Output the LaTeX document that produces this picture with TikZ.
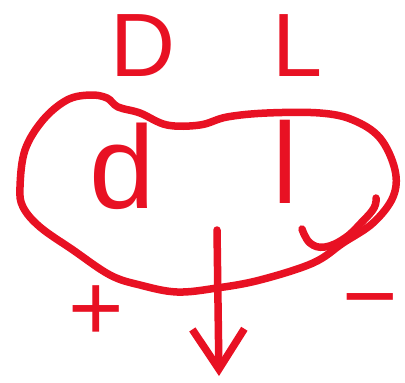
\documentclass[tikz,border=0pt]{standalone}
\usepackage{fontspec}
\setmainfont{Liberation Sans}
\usetikzlibrary{arrows.meta}

\definecolor{inkred}{HTML}{E81123}

\begin{document}
\begin{tikzpicture}[x=1pt,y=-1pt]
            \useasboundingbox (0,0) rectangle (405,383);
            \tikzset{ink/.style={draw=inkred,line width=7.5pt,line cap=round,line join=round},
                     inklabel/.style={text=inkred,inner sep=0pt}}

            % blob
            \draw[ink] plot[smooth cycle,tension=0.6] coordinates {
                (20,187) (25,150) (43,120) (67,100) (90,95) (107,98) (118,107)
                (140,113) (167,125) (200,125) (227,117) (267,113) (320,113)
                (353,120) (380,138) (395,170) (393,197) (373,223) (343,243)
                (313,263) (260,280) (217,288) (177,292) (140,285) (110,275)
                (73,250) (40,227) (23,207)};

            % curl
            \draw[ink] plot[smooth,tension=0.7] coordinates {
                (302,229) (310,243) (325,247) (345,238) (362,222) (374,208) (376,198)};

            % arrow
            \coordinate (T) at (217,230);
            \coordinate (E) at (219,376);
            \draw[ink,-{Straight Barb[length=40pt,width=52pt,line width=7.5pt]}] (T)--(E);

            \node[inklabel,font=\fontsize{90}{90}\selectfont] (D) at (143,46) {D};
            \node[inklabel,font=\fontsize{90}{90}\selectfont] (L) at (298,46) {L};
            \node[inklabel,font=\fontsize{118}{118}\selectfont] (d) at (122,166) {d};
            \node[inklabel,font=\fontsize{115}{115}\selectfont] (l) at (285,162) {l};
            \node[inklabel,font=\fontsize{95}{95}\selectfont] (plus) at (96,313) {+};
            \node[inklabel,font=\fontsize{95}{95}\selectfont] (minus) at (370,311) {−};
        \end{tikzpicture}
\end{document}
